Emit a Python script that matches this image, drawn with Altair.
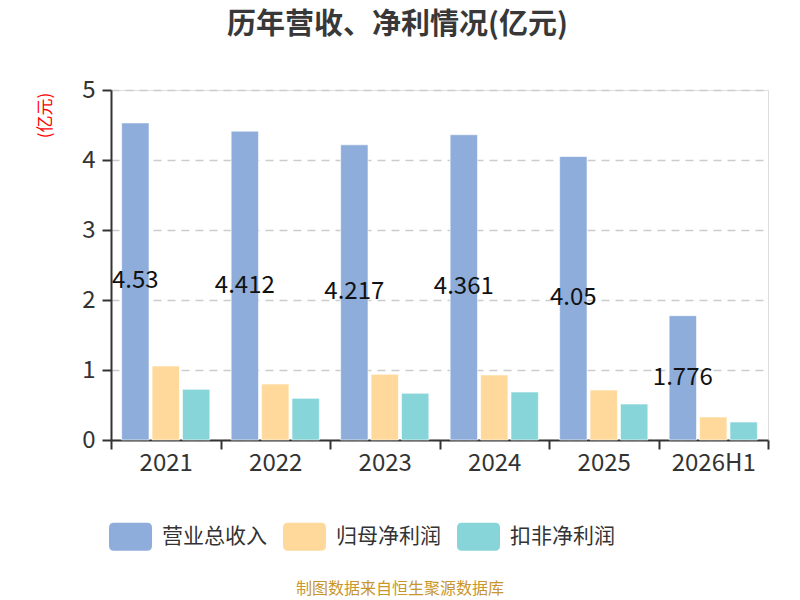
import altair as alt
import pandas as pd

years = ["2021", "2022", "2023", "2024", "2025", "2026H1"]
series = ["营业总收入", "归母净利润", "扣非净利润"]
revenue = [4.53, 4.412, 4.217, 4.361, 4.05, 1.776]
revenue_labels = ["4.53", "4.412", "4.217", "4.361", "4.05", "1.776"]
net_profit = [1.057, 0.80, 0.938, 0.929, 0.714, 0.329]
deducted_profit = [0.724, 0.595, 0.667, 0.686, 0.514, 0.257]
colors = ["#8eaddb", "#ffd99b", "#87d5d8"]
title_text = "历年营收、净利情况(亿元)"
unit_text = "(亿元)"
source_text = "制图数据来自恒生聚源数据库"

FONT = "Noto Sans CJK SC"
W, H = 657, 350

rows = []
for i, y in enumerate(years):
    for s, vals in zip(series, [revenue, net_profit, deducted_profit]):
        rows.append({"year": y, "series": s, "value": vals[i]})
df = pd.DataFrame(rows)

lab_df = pd.DataFrame({
    "year": years,
    "series": [series[0]] * len(years),
    "half": [v / 2 for v in revenue],
    "label": revenue_labels,
})

x_enc = alt.X("year:N", sort=years,
              scale=alt.Scale(paddingInner=0, paddingOuter=0),
              axis=alt.Axis(title=None, labelAngle=0, labelFontSize=24,
                            labelColor="#333333", labelFont=FONT,
                            labelPadding=2, tickSize=9, tickWidth=2,
                            tickColor="#333333", domainColor="#333333",
                            domainWidth=2, tickBand="extent", grid=False))
xoff_enc = alt.XOffset("series:N", sort=series,
                       scale=alt.Scale(domain=series, paddingInner=0.1, paddingOuter=0.35))

rounded = ("M -0.77,-0.65 L 0.77,-0.65 Q 1,-0.65 1,-0.42 L 1,0.42 "
           "Q 1,0.65 0.77,0.65 L -0.77,0.65 Q -1,0.65 -1,0.42 "
           "L -1,-0.42 Q -1,-0.65 -0.77,-0.65 Z")

bars = alt.Chart(df).mark_bar(stroke="#ffffff", strokeWidth=1, strokeOpacity=0.6).encode(
    x=x_enc,
    xOffset=xoff_enc,
    y=alt.Y("value:Q",
            scale=alt.Scale(domain=[0, 5], nice=False),
            axis=alt.Axis(values=[0, 1, 2, 3, 4, 5], format="d", title=unit_text,
                          titleColor="#ff0000", titleFontSize=17, titleFont=FONT,
                          titleFontWeight="normal", titleAngle=270,
                          titleX=-66, titleY=25, titleAlign="center",
                          titleBaseline="middle",
                          labelFontSize=24, labelColor="#333333", labelFont=FONT,
                          labelPadding=7, tickSize=9, tickWidth=2,
                          tickColor="#333333", domainColor="#333333",
                          domainWidth=2, grid=True, gridColor="#cccccc",
                          gridDash=[8, 6], gridWidth=1.5)),
    color=alt.Color("series:N", sort=series,
                    scale=alt.Scale(domain=series, range=colors),
                    legend=alt.Legend(title=None, orient="none", direction="horizontal",
                                      legendX=-2, legendY=425, padding=0,
                                      symbolType=rounded, symbolSize=1849,
                                      symbolStrokeWidth=0, symbolOpacity=1,
                                      labelFontSize=21, labelFont=FONT,
                                      labelColor="#333333", labelOffset=10,
                                      columnPadding=16, labelLimit=300)),
)

labels = alt.Chart(lab_df).mark_text(fontSize=24, font=FONT, color="#111111",
                                     baseline="middle", align="center").encode(
    x=alt.X("year:N", sort=years),
    xOffset=alt.XOffset("series:N", sort=series),
    y=alt.Y("half:Q"),
    text="label:N",
)

title = alt.Chart(pd.DataFrame({"t": [title_text]})).mark_text(
    fontSize=29, font=FONT, fontWeight="bold", color="#383838",
    baseline="middle", align="center").encode(
    x=alt.value(286.5), y=alt.value(-65), text="t:N")

source = alt.Chart(pd.DataFrame({"t": [source_text]})).mark_text(
    fontSize=16, font=FONT, color="#c8962e",
    baseline="middle", align="center").encode(
    x=alt.value(289), y=alt.value(499), text="t:N")

chart = alt.layer(bars, labels, title, source).properties(
    width=W, height=H,
    autosize=alt.AutoSizeParams(type="none"),
    padding={"left": 103, "top": 82, "right": 24, "bottom": 160},
).configure_view(stroke=None).configure(font=FONT)

chart.save("out.html", embed_options={"renderer": "svg", "actions": False})
